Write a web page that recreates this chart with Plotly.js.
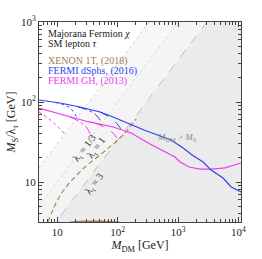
<!DOCTYPE html>
<html><head><meta charset="utf-8">
<script src="https://cdn.plot.ly/plotly-3.0.1.min.js"></script>
<style>html,body{margin:0;padding:0;background:#fff;}#plot{width:262px;height:259px;}</style>
</head><body><div id="plot"></div>
<script>
// ---- data ----
const lambdaValues = [1/3, 1, 3];
const lambdaLabels = ['λ<sub>τ</sub> = 1/3', 'λ<sub>τ</sub> = 1', 'λ<sub>τ</sub> = 3'];

const fermiDsphX = [5, 11.1, 23.9, 51.2, 84, 273, 766, 1211, 1706, 2594, 3524, 4603, 5559, 7551, 11040];
const fermiDsphY = [105.9, 97.2, 86.6, 75, 64.9, 44.7, 33.5, 26.6, 21.8, 17.8, 14.1, 12.2, 11.2, 8.66, 7.5];

const fermiGhX = [5, 11.1, 32.4, 84, 167, 344, 610, 891, 1080, 1521, 2315, 3660, 6000, 11040];
const fermiGhY = [84.1, 70.8, 56.7, 48.7, 41, 29.9, 23.7, 20.5, 17.8, 15.4, 14.5, 14.5, 15, 17.3];

// per-lambda branches (1/3, 1, 3)
const dsphLamX = [[9.2, 14.6, 18.3, 21.3], [22, 34.9, 45.6, 55.2], [51.2, 80.9, 105, 123]];
const dsphLamY = [[98.5, 89, 77, 63], [86.6, 77.2, 66.8, 54.6], [75, 61.3, 50.1, 41]];
const ghLamX = [[5, 7.05, 9.55, 13], [16.3, 23.9, 31.2, 36.3], [42.3, 64.3, 84, 101.6]];
const ghLamY = [[75, 63, 51.6, 41], [65, 56.2, 47.3, 36.5], [54.6, 47.3, 41, 33.5]];

const xenonX = [7.05, 8.2, 9.93, 12.5, 17.6, 28.9, 51.2, 80.9, 128, 202];
const xenonY = [3.16, 4.22, 5.79, 7.72, 10.6, 15.4, 21.8, 29, 39.8, 61.3];
const xenonLowX = [16.3, 23.9, 51, 75, 106];
const xenonLowY = [3.16, 3.22, 3.24, 3.21, 3.16];

const xTickVals = [10, 100, 1000, 10000];
const xTickText = ['10', '10<sup>2</sup>', '10<sup>3</sup>', '10<sup>4</sup>'];
const yTickVals = [10, 100, 1000];
const yTickText = ['10', '10<sup>2</sup>', '10<sup>3</sup>'];

// ---- styling ----
const BLUE = '#3140f2', MAG = '#f03cf0', BROWN = '#a67c52';
const XMIN = 5, XMAX = 11000;
const shadeColors = ['#f7f7f7', '#f4f4f4', '#ebebeb'];
const diagStyles = [{color:'#cccccc', dash:'dot'}, {color:'#d2d2d2', dash:'dot'}, {color:'#b8b8b8', dash:'dash'}];
const lamDash = ['dot', 'dashdot', 'dash'];

const traces = [];
lambdaValues.forEach((l, i) => {
  traces.push({x:[XMIN, XMAX, XMAX, XMIN], y:[XMIN/l, XMAX/l, 3, 3], type:'scatter', mode:'lines',
    fill:'toself', fillcolor: shadeColors[i], line:{width:0}, hoverinfo:'skip'});
});
lambdaValues.forEach((l, i) => {
  traces.push({x:[XMIN, XMAX], y:[XMIN/l, XMAX/l], type:'scatter', mode:'lines',
    line:{color: diagStyles[i].color, dash: diagStyles[i].dash, width:0.9}});
});
traces.push({x:xenonX, y:xenonY, type:'scatter', mode:'lines', line:{color:BROWN, width:1.1, dash:'5px,3px', shape:'spline'}});
traces.push({x:xenonLowX, y:xenonLowY, type:'scatter', mode:'lines', line:{color:BROWN, width:1.3}});
lambdaValues.forEach((l, i) => {
  traces.push({x:dsphLamX[i], y:dsphLamY[i], type:'scatter', mode:'lines', line:{color:BLUE, width:1, dash:lamDash[i], shape:'spline'}});
  traces.push({x:ghLamX[i], y:ghLamY[i], type:'scatter', mode:'lines', line:{color:MAG, width:1, dash:lamDash[i], shape:'spline'}});
});
traces.push({x:fermiGhX, y:fermiGhY, type:'scatter', mode:'lines', line:{color:MAG, width:1.2}});
traces.push({x:fermiDsphX, y:fermiDsphY, type:'scatter', mode:'lines', line:{color:BLUE, width:1.2}});

const FONT = 'Liberation Serif, DejaVu Serif, serif';
function minorVals(lo, hi) {
  const v = [];
  for (let d = Math.pow(10, Math.floor(Math.log10(lo))); d < hi; d *= 10)
    for (let k = 2; k <= 9; k++) { const t = k*d; if (t >= lo && t <= hi) v.push(t); }
  return v;
}
const axisCommon = {type:'log', showgrid:false, zeroline:false, showline:true, linecolor:'#444', linewidth:1,
  mirror:'allticks', ticks:'inside', ticklen:5, tickwidth:1, tickcolor:'#444',
  tickfont:{family:FONT, size:11, color:'#222'}, tickmode:'array'};

const annotations = [
  {text:'Majorana Fermion <i>χ</i>', x:0.035, y:0.945, color:'#222'},
  {text:'SM lepton <i>τ</i>', x:0.035, y:0.895, color:'#222'},
  {text:'XENON 1T, (2018)', x:0.035, y:0.805, color:BROWN},
  {text:'FERMI dSphs, (2016)', x:0.035, y:0.755, color:BLUE},
  {text:'FERMI GH, (2013)', x:0.035, y:0.705, color:MAG},
].map(a => ({xref:'paper', yref:'paper', x:a.x, y:a.y, xanchor:'left', yanchor:'middle', showarrow:false,
  text:a.text, font:{family:FONT, size:10, color:a.color}}));
annotations.push({xref:'paper', yref:'paper', x:0.79, y:0.425, showarrow:false,
  text:'<i>M</i><sub>DM</sub> &gt; <i>M</i><sub>S</sub>', font:{family:FONT, size:9, color:'#8a8a8a'}});
const lamPos = [[0.14, 0.37], [0.21, 0.29], [0.2, 0.11]];
lambdaLabels.forEach((t, i) => {
  annotations.push({xref:'paper', yref:'paper', x:lamPos[i][0], y:lamPos[i][1], showarrow:false, textangle:-53,
    text:t, font:{family:FONT, size:10, color:'#333'}});
});

const layout = {
  width:262, height:259, margin:{l:39, r:21, t:22, b:37, autoexpand:false},
  paper_bgcolor:'#fff', plot_bgcolor:'#fff', showlegend:false,
  xaxis: Object.assign({}, axisCommon, {range:[Math.log10(XMIN), Math.log10(XMAX)], tickvals:xTickVals, ticktext:xTickText,
    minor:{tickmode:'array', tickvals:minorVals(XMIN, XMAX), ticks:'inside', ticklen:3, tickcolor:'#444', showgrid:false},
    title:{text:'<i>M</i><sub>DM</sub> [GeV]', font:{family:FONT, size:12, color:'#222'}, standoff:3}, automargin:false}),
  yaxis: Object.assign({}, axisCommon, {range:[0.5, 3], tickvals:yTickVals, ticktext:yTickText,
    minor:{tickmode:'array', tickvals:minorVals(3.2, 1000), ticks:'inside', ticklen:3, tickcolor:'#444', showgrid:false},
    title:{text:'<i>M</i><sub>S</sub>/λ<sub>τ</sub> [GeV]', font:{family:FONT, size:12, color:'#222'}, standoff:2}, automargin:false}),
  annotations: annotations
};
Plotly.newPlot('plot', traces, layout, {displayModeBar:false, staticPlot:true});
</script></body></html>
